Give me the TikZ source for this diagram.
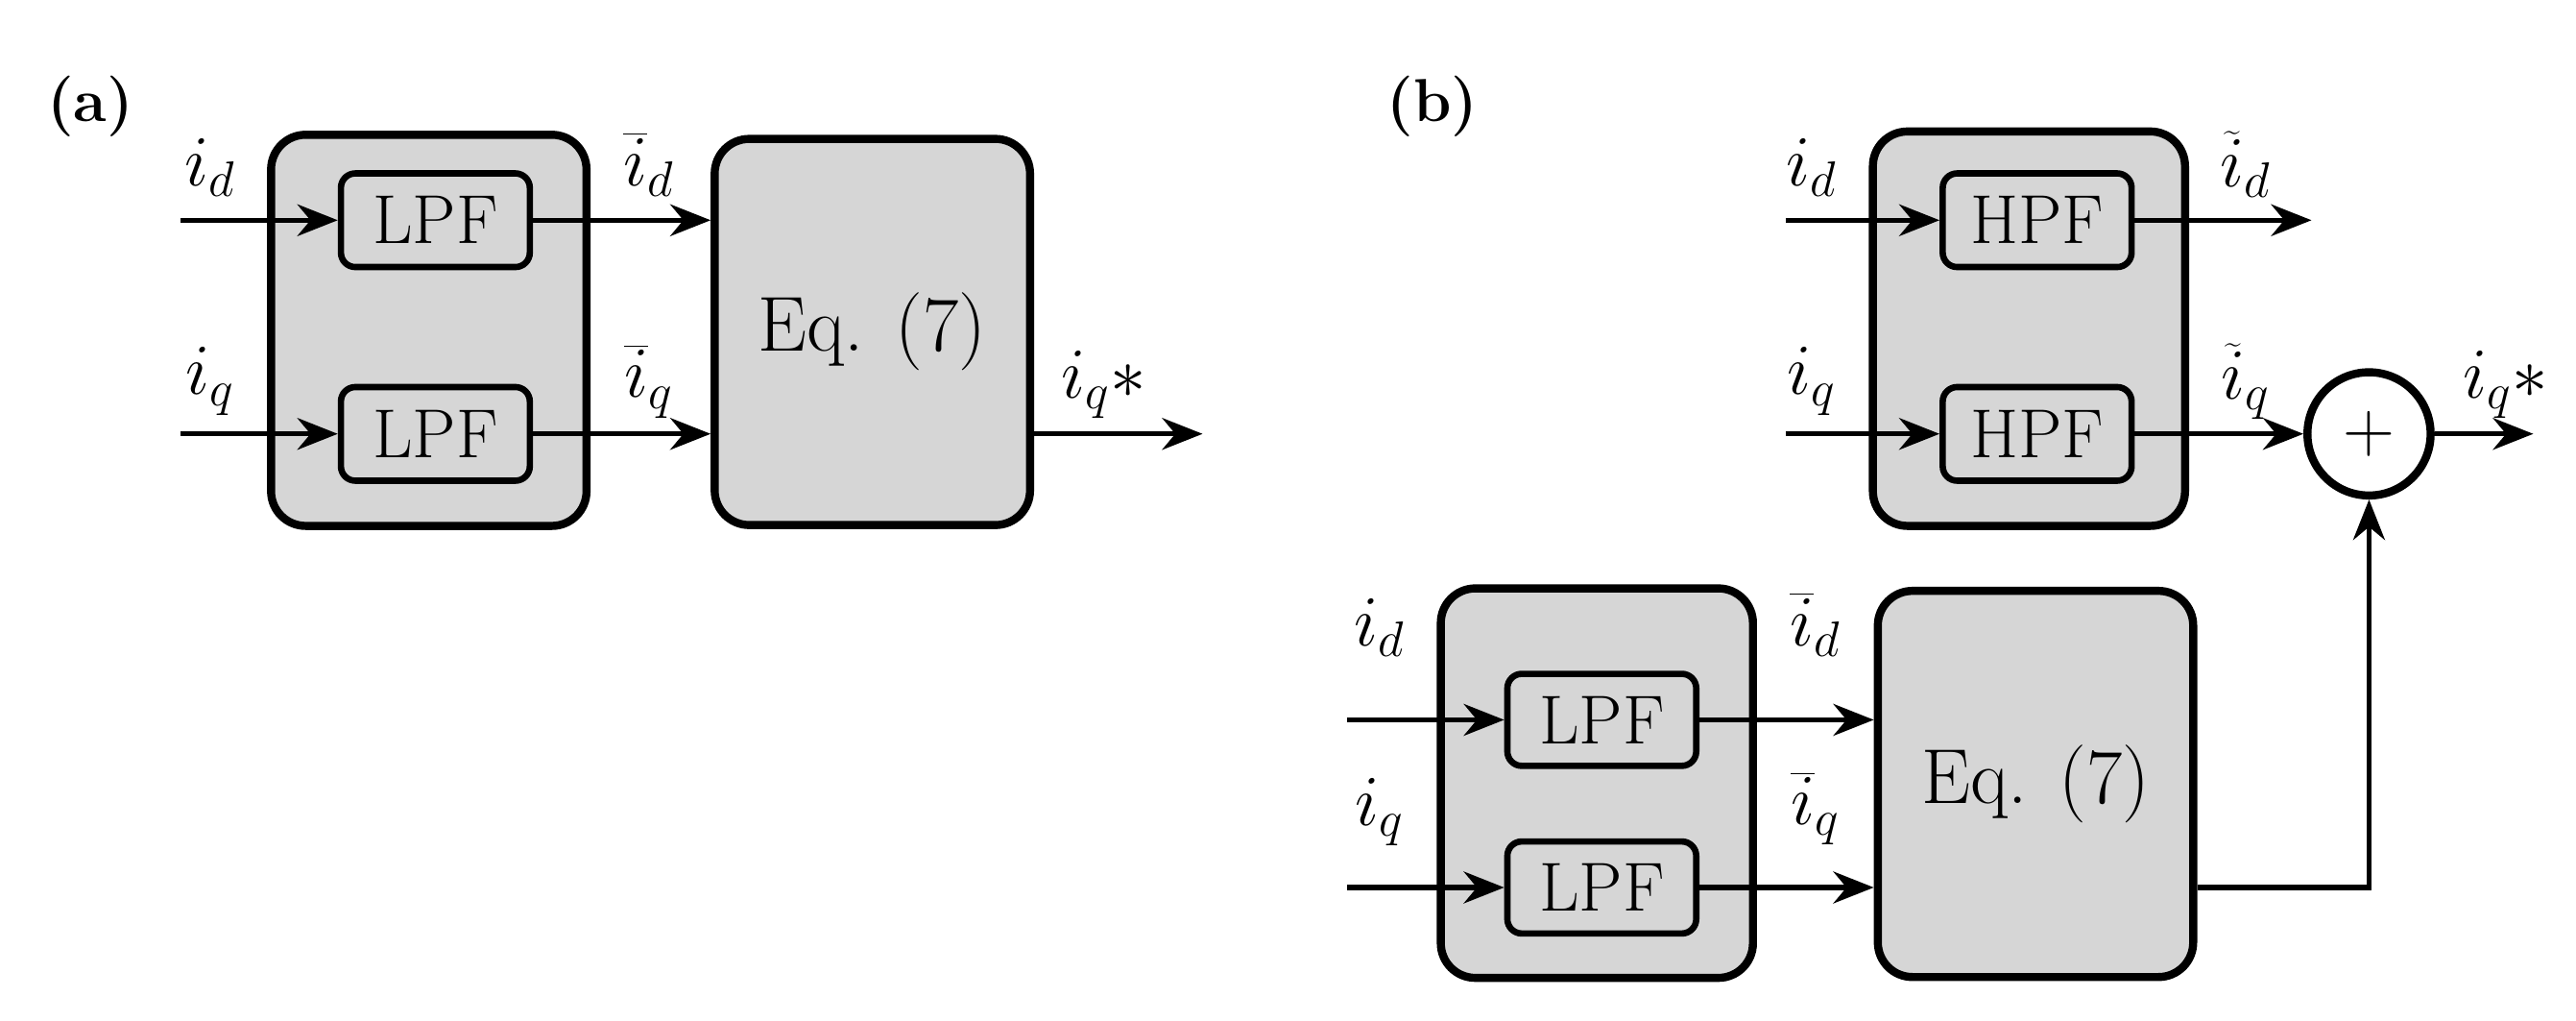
\documentclass[tikz,border=0pt]{standalone}
\usetikzlibrary{arrows.meta}
\begin{document}
\begin{tikzpicture}[x=0.02cm,y=-0.02cm,
 outer/.style={draw,line width=2.8pt,rounded corners=12pt,fill=black!16},
 inner/.style={draw,line width=2.2pt,rounded corners=5pt,fill=black!16,font=\fontsize{24}{24}\selectfont,inner sep=0pt},
 eq/.style={draw,line width=2.8pt,rounded corners=12pt,fill=black!16,font=\fontsize{27}{28}\selectfont},
 arr/.style={line width=1.7pt,-{Stealth[length=14pt,width=11pt]}},
 lbl/.style={font=\fontsize{25}{26}\selectfont,inner sep=1pt},
 tag/.style={font=\bfseries\fontsize{21}{22}\selectfont}]
\useasboundingbox (0,0) rectangle (1568,621);
% (a)
\node[tag] (ta) at (55,65) {(a)};
\draw[outer] (165,82) rectangle (357,320);
\node[inner,minimum width=2.3cm,minimum height=1.14cm] (l1) at (265,134) {LPF};
\node[inner,minimum width=2.3cm,minimum height=1.14cm] (l2) at (265,264) {LPF};
\node[eq,minimum width=3.84cm,minimum height=4.7cm] (e1) at (531,202) {Eq. (7)};
\coordinate (a1) at (110,134); \coordinate (a2) at (110,264);
\draw[arr] (a1) -- (l1); \draw[arr] (a2) -- (l2);
\draw[arr] (l1.east) -- (e1.west|-l1);
\draw[arr] (l2.east) -- (e1.west|-l2);
\coordinate (ao) at (732,264);
\draw[arr] (e1.east|-ao) -- (ao);
\node[lbl] (ad) at (128,102) {$i_d$};
\node[lbl] (aq) at (128,232) {$i_q$};
\node[lbl] (abd) at (395,100) {$\overline{i}_d$};
\node[lbl] (abq) at (395,232) {$\overline{i}_q$};
\node[lbl] (aqs) at (672,234) {$i_q{*}$};
% (b)
\node[tag] (tb) at (872,65) {(b)};
\draw[outer] (1140,80) rectangle (1330,320);
\node[inner,minimum width=2.3cm,minimum height=1.14cm] (h1) at (1240,134) {HPF};
\node[inner,minimum width=2.3cm,minimum height=1.14cm] (h2) at (1240,264) {HPF};
\coordinate (b1) at (1087,134); \coordinate (b2) at (1087,264);
\draw[arr] (b1) -- (h1); \draw[arr] (b2) -- (h2);
\coordinate (ho) at (1407,134);
\draw[arr] (h1.east) -- (ho);
\node[draw,circle,line width=2.8pt,fill=white,minimum size=1.5cm,inner sep=0pt,font=\fontsize{30}{30}\selectfont] (s) at (1442,264) {$+$};
\draw[arr] (h2.east) -- (s);
\coordinate (so) at (1542,264);
\draw[arr] (s) -- (so);
\node[lbl] (bd) at (1103,102) {$i_d$};
\node[lbl] (bq) at (1103,232) {$i_q$};
\node[lbl] (btd) at (1367,100) {$\widetilde{i}_d$};
\node[lbl] (btq) at (1367,232) {$\widetilde{i}_q$};
\node[lbl] (bqs) at (1525,234) {$i_q{*}$};
\draw[outer] (877,358) rectangle (1067,595);
\node[inner,minimum width=2.3cm,minimum height=1.12cm] (m1) at (975,438) {LPF};
\node[inner,minimum width=2.3cm,minimum height=1.12cm] (m2) at (975,540) {LPF};
\node[eq,minimum width=3.84cm,minimum height=4.7cm] (e2) at (1239,477) {Eq. (7)};
\coordinate (c1) at (820,438); \coordinate (c2) at (820,540);
\draw[arr] (c1) -- (m1); \draw[arr] (c2) -- (m2);
\draw[arr] (m1.east) -- (e2.west|-m1);
\draw[arr] (m2.east) -- (e2.west|-m2);
\coordinate (corner) at (1442,540);
\draw[arr] (e2.east|-corner) -- (corner) -- (s.south);
\node[lbl] (cd) at (840,382) {$i_d$};
\node[lbl] (cq) at (840,494) {$i_q$};
\node[lbl] (cbd) at (1105,380) {$\overline{i}_d$};
\node[lbl] (cbq) at (1105,492) {$\overline{i}_q$};
\end{tikzpicture}
\end{document}
